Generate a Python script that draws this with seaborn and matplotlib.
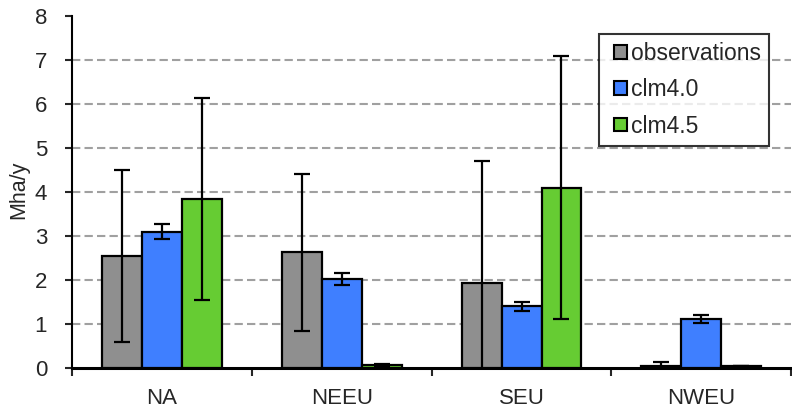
import numpy as np
import pandas as pd
import matplotlib
matplotlib.use("Agg")
import matplotlib.pyplot as plt
import matplotlib.patches as mpatches
from matplotlib.legend_handler import HandlerPatch
import seaborn as sns

regions = ["NA", "NEEU", "SEU", "NWEU"]
series = ["observations", "clm4.0", "clm4.5"]
observations = [2.54, 2.63, 1.93, 0.05]
observations_err = [1.95, 1.78, 2.78, 0.09]
clm40 = [3.10, 2.02, 1.40, 1.11]
clm40_err = [0.17, 0.14, 0.10, 0.09]
clm45 = [3.84, 0.06, 4.10, 0.04]
clm45_err = [2.29, 0.03, 2.98, 0.0]
colors = ["#8f8f8f", "#3f7fff", "#66cc33"]
yticks = [0, 1, 2, 3, 4, 5, 6, 7, 8]

values = {"observations": observations, "clm4.0": clm40, "clm4.5": clm45}
errors = {"observations": observations_err, "clm4.0": clm40_err, "clm4.5": clm45_err}

df = pd.DataFrame(
    [(r, s, values[s][i]) for s in series for i, r in enumerate(regions)],
    columns=["region", "series", "value"],
)

sns.set_style("white")
plt.rcParams["font.family"] = ["Liberation Sans", "DejaVu Sans"]

fig = plt.figure(figsize=(7.92, 4.09), dpi=100)
ax = fig.add_axes([0.091, 0.100, 0.908, 0.861])

sns.barplot(
    data=df, x="region", y="value", hue="series", order=regions,
    hue_order=series, palette=colors, width=2 / 3, errorbar=None,
    edgecolor="black", linewidth=1.6, saturation=1, ax=ax, zorder=3,
)

# error bars centred on each drawn bar
for container, s in zip(ax.containers, series):
    xs = [p.get_x() + p.get_width() / 2 for p in container.patches]
    hs = [p.get_height() for p in container.patches]
    ax.errorbar(xs, hs, yerr=errors[s], fmt="none", ecolor="black",
                elinewidth=1.6, capsize=6, capthick=1.6, zorder=4,
                clip_on=True)

ax.set_ylim(0, 8)
ax.set_xlim(-0.5, 3.5)
ax.set_yticks(yticks)
ax.set_yticklabels([str(t) for t in yticks])
ax.set_xlabel("")
ax.set_ylabel("")

for y in yticks[1:-1]:
    ax.axhline(y, color="#a0a0a0", linewidth=1.5, linestyle=(0, (4, 2)), zorder=1)

for side in ["top", "right"]:
    ax.spines[side].set_visible(False)
ax.spines["left"].set_linewidth(1.5)
ax.spines["bottom"].set_linewidth(2.2)
ax.spines["left"].set_color("black")
ax.spines["bottom"].set_color("black")

ax.tick_params(axis="y", which="major", direction="out", length=5, width=1.5,
               left=True, labelsize=16, pad=13)
ax.tick_params(axis="x", which="major", length=0, labelsize=16, pad=14)
ax.set_xticks(np.arange(-0.5, 4.0, 1.0), minor=True)
ax.tick_params(axis="x", which="minor", direction="out", length=6, width=1.5,
               bottom=True)

# y-axis title
fig.text(0.024, 0.535, "Mha/y", rotation=90, fontsize=15.5,
         ha="center", va="center")


def square_patch(legend, orig_handle, xdescent, ydescent, width, height, fontsize):
    side = 0.6 * fontsize
    return mpatches.Rectangle(
        (-xdescent + width - side, -ydescent + (height - side) / 2), side, side
    )


handles, labels = ax.get_legend_handles_labels()
leg = ax.legend(
    handles, labels,
    loc="upper right", bbox_to_anchor=(0.969, 0.949), fontsize=16.5,
    frameon=True, fancybox=False, handlelength=0.9, handleheight=0.6,
    handletextpad=0.15, labelspacing=0.58, borderpad=0.35, borderaxespad=0,
    handler_map={mpatches.Rectangle: HandlerPatch(patch_func=square_patch)},
)
leg.get_frame().set_edgecolor("black")
leg.get_frame().set_linewidth(1.5)
for h in leg.legend_handles:
    h.set_edgecolor("black")
    h.set_linewidth(1.5)

fig.savefig("out.png", dpi=100)
